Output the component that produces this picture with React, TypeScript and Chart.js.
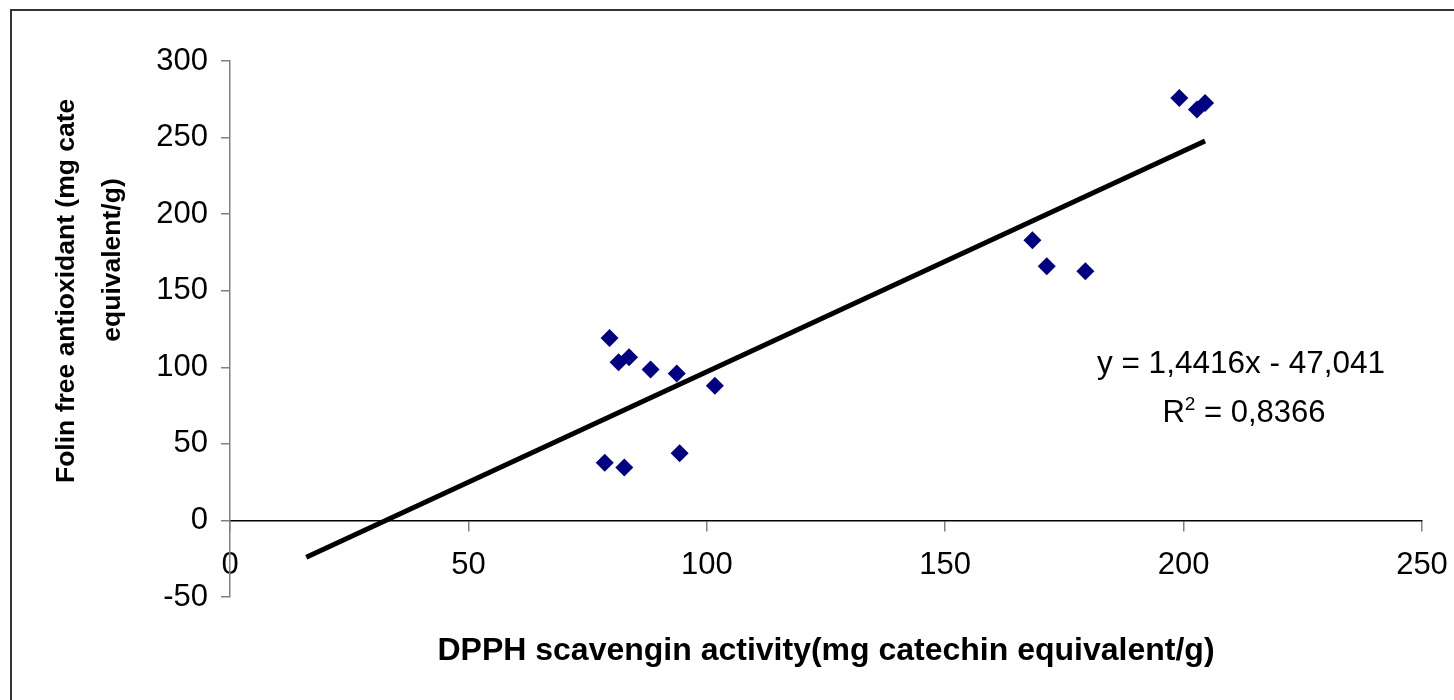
import React, { useEffect, useRef } from "react";
import { Chart, registerables } from "chart.js";

Chart.register(...registerables);

// ---- data ----
const dpphX = [79.6, 81.5, 83.7, 88.2, 93.7, 101.7, 78.6, 82.7, 94.3, 168.3, 171.3, 179.4, 199.1, 202.8, 204.5];
const folinY = [119.2, 103.3, 106.6, 98.6, 96.0, 87.9, 37.7, 34.6, 43.9, 183.0, 166.0, 162.7, 275.9, 268.3, 272.6];
const trendX = [16, 204.5];
const trendY = [-24, 247.8];
const xTicks = [0, 50, 100, 150, 200, 250];
const yTicks = [-50, 0, 50, 100, 150, 200, 250, 300];
const xTitle = "DPPH scavengin activity(mg catechin equivalent/g)";
const yTitleLines = ["Folin free antioxidant (mg cate", "equivalent/g)"];
const equationText = "y = 1,4416x - 47,041";
const r2Label = "R";
const r2Sup = "2";
const r2Value = " = 0,8366";

const FONT = "'Liberation Sans', Arial, Helvetica, sans-serif";

const decorPlugin = {
  id: "decor",
  afterDraw(chart: any) {
    const ctx = chart.ctx as CanvasRenderingContext2D;
    ctx.save();
    // outer frame (top & left visible)
    ctx.strokeStyle = "#333";
    ctx.lineWidth = 2;
    ctx.beginPath();
    ctx.moveTo(11, 700);
    ctx.lineTo(11, 10);
    ctx.lineTo(1454, 10);
    ctx.stroke();

    ctx.fillStyle = "#000";
    // x title
    ctx.font = `bold 32px ${FONT}`;
    ctx.textAlign = "center";
    ctx.textBaseline = "middle";
    const ca = chart.chartArea;
    ctx.fillText(xTitle, (ca.left + ca.right) / 2, 651);

    // y title
    ctx.font = `bold 26.5px ${FONT}`;
    ctx.save();
    ctx.translate(67, 483);
    ctx.rotate(-Math.PI / 2);
    ctx.textAlign = "left";
    ctx.fillText(yTitleLines[0], 0, 0);
    ctx.restore();
    ctx.save();
    ctx.translate(113, 260);
    ctx.rotate(-Math.PI / 2);
    ctx.textAlign = "center";
    ctx.fillText(yTitleLines[1], 0, 0);
    ctx.restore();

    // equation
    ctx.font = `31.5px ${FONT}`;
    ctx.textAlign = "center";
    ctx.textBaseline = "alphabetic";
    ctx.fillText(equationText, 1241, 373);
    ctx.font = `31px ${FONT}`;
    const wR = ctx.measureText(r2Label).width;
    const wV = ctx.measureText(r2Value).width;
    ctx.font = `19px ${FONT}`;
    const wS = ctx.measureText(r2Sup).width;
    const total = wR + wS + wV;
    const x0 = 1244 - total / 2;
    ctx.textAlign = "left";
    ctx.font = `31px ${FONT}`;
    ctx.fillText(r2Label, x0, 422);
    ctx.font = `19px ${FONT}`;
    ctx.fillText(r2Sup, x0 + wR, 410);
    ctx.font = `31px ${FONT}`;
    ctx.fillText(r2Value, x0 + wR + wS, 422);
    ctx.restore();
  },
};

export default function App() {
  const canvasRef = useRef<HTMLCanvasElement | null>(null);

  useEffect(() => {
    if (!canvasRef.current) return;
    const chart = new Chart(canvasRef.current, {
      type: "scatter",
      data: {
        datasets: [
          {
            type: "line",
            label: "trend",
            data: trendX.map((x, i) => ({ x, y: trendY[i] })),
            borderColor: "#000",
            borderWidth: 5,
            pointRadius: 0,
            fill: false,
            order: 2,
          } as any,
          {
            label: "data",
            data: dpphX.map((x, i) => ({ x, y: folinY[i] })),
            pointStyle: "rectRot",
            pointRadius: 9,
            pointHoverRadius: 9,
            backgroundColor: "#000080",
            borderColor: "#000080",
            borderWidth: 0,
            order: 1,
          },
        ],
      },
      options: {
        responsive: false,
        animation: false,
        events: [],
        layout: { padding: { left: 0, top: 61, right: 32, bottom: 103 } },
        plugins: { legend: { display: false }, tooltip: { enabled: false }, title: { display: false } },
        scales: {
          x: {
            type: "linear",
            position: { y: 0 } as any,
            min: 0,
            max: 250,
            afterBuildTicks: (s: any) => {
              s.ticks = xTicks.map((v) => ({ value: v }));
            },
            afterFit: (s: any) => {
              s.paddingLeft = 0;
              s.paddingRight = 0;
            },
            border: { color: "#000", width: 1.5 },
            grid: { drawOnChartArea: false, drawTicks: true, tickLength: 10, color: "#808080", lineWidth: 1.5 },
            ticks: { font: { size: 31, family: FONT }, color: "#000", padding: 16, maxRotation: 0, autoSkip: false },
          },
          y: {
            type: "linear",
            position: "left",
            min: -50,
            max: 300,
            afterBuildTicks: (s: any) => {
              s.ticks = yTicks.map((v) => ({ value: v }));
            },
            afterFit: (s: any) => {
              s.width = 230;
            },
            border: { color: "#808080", width: 1.5 },
            grid: { drawOnChartArea: false, drawTicks: true, tickLength: 9, color: "#808080", lineWidth: 1.5 },
            ticks: { font: { size: 31, family: FONT }, color: "#000", padding: 13, autoSkip: false },
          },
        },
      },
      plugins: [decorPlugin],
    });
    return () => chart.destroy();
  }, []);

  return (
    <div style={{ position: "fixed", left: 0, top: 0, width: 1454, height: 700, background: "#fff" }}>
      <canvas ref={canvasRef} width={1454} height={700} style={{ display: "block" }} />
    </div>
  );
}
